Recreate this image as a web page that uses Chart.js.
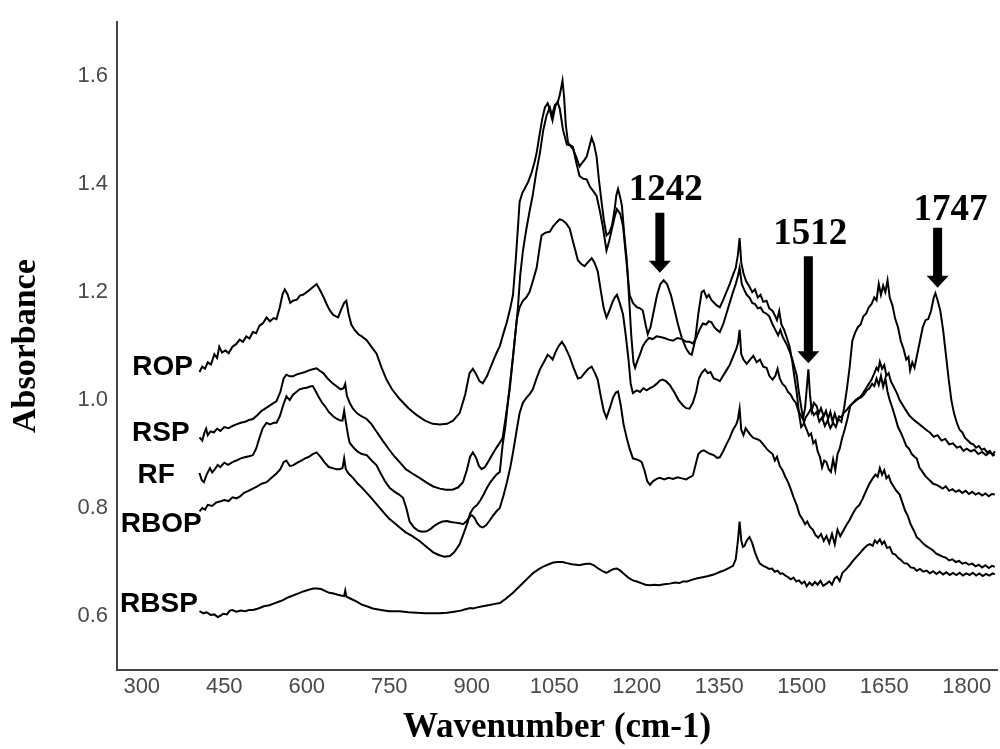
<!DOCTYPE html>
<html>
<head>
  <title>FTIR spectra</title>
  <script src="https://cdn.jsdelivr.net/npm/chart.js"></script>
  <style>
    html, body { margin: 0; padding: 0; background: #fff; }
    #wrap { width: 1000px; height: 749px; position: relative; }
  </style>
</head>
<body>
  <div id="wrap">
    <canvas id="ftirChart"></canvas>
  </div>

  <script>
    // wavenumber (cm-1), absorbance pairs read for each sample
    const ROP = [
      [405,1.052],[410,1.062],[415,1.058],[420,1.07],[426,1.066],[432,1.085],[437,1.078],[441,1.099],[446,1.088],[452,1.092],
      [458,1.087],[465,1.099],[472,1.104],[478,1.112],[484,1.108],[490,1.118],[496,1.114],[502,1.126],[508,1.124],[514,1.138],
      [520,1.142],[527,1.153],[533,1.146],[540,1.152],[545,1.15],[551,1.172],[556,1.196],[560,1.205],[565,1.196],[570,1.18],
      [575,1.184],[582,1.186],[588,1.194],[593,1.195],[600,1.2],[606,1.205],[612,1.21],[618,1.215],[624,1.204],[630,1.192],
      [636,1.178],[642,1.166],[648,1.158],[653,1.155],[657,1.153],[662,1.166],[668,1.18],[672,1.184],[676,1.16],[681,1.14],
      [687,1.13],[694,1.122],[700,1.118],[709,1.111],[718,1.098],[727,1.086],[736,1.06],[745,1.038],[755,1.02],[769,1.002],
      [785,0.985],[800,0.972],[815,0.962],[829,0.956],[842,0.955],[855,0.956],[866,0.962],[878,0.976],[888,1.01],[896,1.05],
      [902,1.058],[908,1.048],[914,1.035],[920,1.031],[928,1.045],[936,1.065],[944,1.085],[951,1.10],[958,1.125],[964,1.145],
      [970,1.17],[975,1.195],[980,1.26],[984,1.32],[987,1.367],[992,1.384],[996,1.391],[1003,1.405],[1009,1.422],[1014,1.44],
      [1018,1.458],[1023,1.49],[1028,1.52],[1033,1.542],[1038,1.55],[1042,1.538],[1045,1.524],[1048,1.535],[1051,1.546],[1056,1.552],
      [1060,1.54],[1066,1.5],[1073,1.473],[1079,1.472],[1084,1.469],[1090,1.44],[1096,1.415],[1103,1.41],[1109,1.409],[1115,1.395],
      [1121,1.387],[1127,1.378],[1133,1.35],[1138,1.323],[1145,1.277],[1150,1.295],[1155,1.318],[1160,1.34],[1164,1.354],[1170,1.345],
      [1175,1.323],[1181,1.26],[1187,1.195],[1193,1.18],[1200,1.172],[1206,1.17],[1211,1.166],[1216,1.14],[1220,1.122],[1225,1.135],
      [1231,1.165],[1237,1.195],[1243,1.215],[1249,1.222],[1255,1.215],[1262,1.195],[1268,1.17],[1275,1.14],[1282,1.115],[1290,1.095],
      [1296,1.086],[1300,1.084],[1306,1.11],[1312,1.16],[1318,1.2],[1322,1.203],[1327,1.19],[1331,1.195],[1336,1.185],[1341,1.18],
      [1346,1.175],[1351,1.172],[1357,1.185],[1363,1.2],[1369,1.215],[1375,1.232],[1380,1.245],[1384,1.27],[1387,1.30],[1390,1.255],
      [1394,1.235],[1399,1.22],[1405,1.21],[1410,1.2],[1415,1.205],[1420,1.19],[1425,1.195],[1430,1.182],[1436,1.184],[1441,1.17],
      [1447,1.165],[1452,1.155],[1455,1.148],[1459,1.165],[1463,1.14],[1468,1.13],[1473,1.115],[1478,1.099],[1483,1.07],[1487,1.04],
      [1491,1.013],[1495,0.975],[1499,0.95],[1503,0.955],[1507,0.968],[1512,0.975],[1517,0.985],[1522,0.972],[1527,0.978],[1532,0.96],
      [1537,0.968],[1542,0.952],[1547,0.962],[1552,0.948],[1557,0.958],[1562,0.95],[1567,0.965],[1572,0.96],[1577,0.985],[1582,1.02],
      [1587,1.06],[1592,1.11],[1597,1.125],[1602,1.135],[1607,1.14],[1612,1.155],[1617,1.16],[1622,1.172],[1627,1.178],[1632,1.19],
      [1636,1.185],[1640,1.215],[1644,1.195],[1648,1.212],[1652,1.2],[1656,1.222],[1660,1.19],[1665,1.175],[1670,1.15],[1675,1.135],
      [1680,1.11],[1685,1.095],[1690,1.075],[1694,1.08],[1697,1.055],[1701,1.07],[1705,1.06],[1710,1.085],[1715,1.11],[1720,1.135],
      [1725,1.148],[1730,1.15],[1735,1.165],[1740,1.19],[1743,1.198],[1747,1.185],[1752,1.165],[1757,1.13],[1762,1.085],[1767,1.04],
      [1772,1.0],[1777,0.975],[1782,0.958],[1787,0.945],[1792,0.94],[1797,0.93],[1802,0.925],[1807,0.92],[1812,0.918],[1817,0.912],
      [1822,0.915],[1827,0.908],[1832,0.91],[1837,0.903],[1842,0.906],[1847,0.898],[1851,0.905]
    ];

    const RSP = [
      [405,0.931],[410,0.925],[414,0.94],[417,0.947],[420,0.935],[425,0.942],[431,0.94],[437,0.947],[443,0.943],[450,0.95],
      [458,0.948],[465,0.952],[472,0.955],[480,0.958],[488,0.96],[495,0.963],[502,0.965],[510,0.972],[518,0.98],[527,0.986],
      [536,0.992],[545,0.998],[552,1.015],[558,1.04],[563,1.047],[569,1.044],[575,1.044],[583,1.048],[590,1.05],[597,1.052],
      [604,1.055],[611,1.057],[618,1.059],[624,1.054],[630,1.05],[638,1.04],[647,1.031],[655,1.025],[662,1.02],[667,1.022],
      [670,1.03],[673,1.008],[678,0.995],[684,0.984],[692,0.975],[700,0.97],[709,0.965],[718,0.955],[728,0.94],[738,0.925],
      [750,0.908],[760,0.895],[769,0.885],[780,0.872],[792,0.864],[805,0.856],[818,0.847],[830,0.84],[842,0.836],[853,0.834],
      [865,0.834],[875,0.838],[884,0.848],[891,0.87],[897,0.895],[902,0.903],[908,0.893],[913,0.878],[918,0.872],[924,0.876],
      [930,0.886],[938,0.9],[945,0.912],[951,0.921],[956,0.929],[962,0.97],[969,1.02],[974,1.07],[978,1.111],[981,1.14],
      [984,1.172],[988,1.23],[993,1.276],[999,1.315],[1005,1.349],[1011,1.38],[1017,1.42],[1024,1.458],[1030,1.5],[1036,1.527],
      [1042,1.542],[1045,1.53],[1047,1.519],[1050,1.535],[1053,1.548],[1056,1.55],[1060,1.565],[1065,1.592],[1068,1.56],[1071,1.51],
      [1075,1.477],[1080,1.47],[1084,1.465],[1090,1.45],[1096,1.433],[1101,1.44],[1105,1.445],[1109,1.451],[1114,1.47],[1118,1.486],
      [1122,1.475],[1127,1.451],[1131,1.41],[1136,1.367],[1140,1.335],[1145,1.305],[1150,1.31],[1155,1.323],[1160,1.355],[1163,1.38],
      [1166,1.391],[1170,1.375],[1173,1.36],[1177,1.31],[1182,1.258],[1186,1.19],[1190,1.12],[1194,1.07],[1197,1.06],[1201,1.072],
      [1206,1.085],[1211,1.1],[1216,1.108],[1222,1.115],[1229,1.113],[1236,1.118],[1243,1.117],[1250,1.115],[1258,1.112],[1266,1.11],
      [1274,1.115],[1282,1.113],[1290,1.108],[1296,1.108],[1302,1.105],[1308,1.115],[1314,1.13],[1320,1.142],[1326,1.14],[1331,1.146],
      [1336,1.144],[1341,1.135],[1346,1.13],[1351,1.126],[1357,1.14],[1363,1.16],[1369,1.18],[1375,1.2],[1380,1.215],[1384,1.23],
      [1387,1.245],[1391,1.215],[1395,1.205],[1400,1.195],[1405,1.19],[1410,1.18],[1415,1.178],[1420,1.17],[1425,1.172],[1430,1.163],
      [1436,1.16],[1441,1.155],[1447,1.14],[1452,1.13],[1457,1.12],[1461,1.13],[1465,1.118],[1470,1.108],[1474,1.1],[1478,1.09],
      [1483,1.075],[1487,1.06],[1491,1.045],[1494,1.02],[1497,1.0],[1501,0.975],[1505,0.955],[1509,0.945],[1513,0.934],[1517,0.938],
      [1521,0.92],[1525,0.925],[1529,0.905],[1533,0.895],[1537,0.875],[1541,0.888],[1545,0.885],[1549,0.872],[1553,0.867],[1557,0.89],
      [1561,0.87],[1565,0.9],[1569,0.91],[1573,0.928],[1578,0.945],[1583,0.965],[1588,0.988],[1593,0.995],[1598,1.0],[1603,1.004],
      [1608,1.005],[1613,1.01],[1618,1.018],[1623,1.022],[1628,1.03],[1632,1.026],[1636,1.04],[1640,1.028],[1644,1.045],[1648,1.025],
      [1652,1.04],[1656,1.015],[1660,1.0],[1665,0.985],[1670,0.968],[1675,0.95],[1680,0.94],[1685,0.928],[1690,0.915],[1695,0.91],
      [1700,0.9],[1705,0.895],[1709,0.892],[1714,0.875],[1719,0.868],[1724,0.86],[1729,0.855],[1734,0.85],[1739,0.845],[1745,0.843],
      [1750,0.84],[1756,0.836],[1762,0.84],[1768,0.832],[1774,0.835],[1780,0.83],[1786,0.833],[1792,0.828],[1798,0.832],[1804,0.826],
      [1810,0.83],[1816,0.825],[1822,0.828],[1828,0.823],[1834,0.827],[1840,0.822],[1846,0.826],[1851,0.825]
    ];

    const RF = [
      [405,0.865],[409,0.852],[413,0.848],[418,0.862],[424,0.874],[428,0.866],[433,0.872],[438,0.88],[443,0.876],[450,0.884],
      [457,0.88],[465,0.885],[472,0.888],[480,0.892],[487,0.894],[495,0.896],[502,0.898],[508,0.91],[514,0.93],[520,0.948],
      [527,0.958],[533,0.955],[540,0.958],[545,0.958],[551,0.97],[557,0.99],[563,1.007],[569,1.0],[575,1.01],[581,1.015],
      [587,1.02],[594,1.022],[600,1.023],[606,1.025],[611,1.026],[617,1.015],[622,1.005],[628,0.995],[633,0.989],[640,0.978],
      [648,0.97],[655,0.965],[661,0.962],[665,0.962],[668,0.98],[671,0.96],[675,0.935],[678,0.921],[685,0.912],[692,0.905],
      [700,0.9],[709,0.898],[718,0.888],[727,0.879],[734,0.865],[742,0.85],[751,0.837],[760,0.83],[768,0.825],[775,0.819],
      [781,0.8],[787,0.775],[795,0.764],[803,0.758],[810,0.756],[818,0.757],[826,0.762],[833,0.768],[840,0.772],[847,0.775],
      [855,0.776],[862,0.774],[870,0.773],[878,0.772],[884,0.77],[890,0.775],[895,0.782],[900,0.787],[905,0.782],[910,0.772],
      [915,0.766],[920,0.764],[926,0.768],[932,0.776],[938,0.785],[945,0.794],[951,0.8],[958,0.824],[964,0.848],[970,0.875],
      [975,0.903],[981,0.94],[987,0.976],[993,0.995],[1000,1.005],[1006,1.012],[1011,1.02],[1017,1.038],[1024,1.057],[1031,1.07],
      [1038,1.084],[1043,1.08],[1047,1.075],[1052,1.088],[1058,1.1],[1064,1.108],[1070,1.098],[1078,1.08],[1085,1.06],[1093,1.04],
      [1099,1.042],[1105,1.05],[1112,1.058],[1118,1.062],[1124,1.05],[1129,1.038],[1135,1.005],[1140,0.98],[1145,0.967],[1151,0.985],
      [1157,1.005],[1162,1.014],[1166,1.016],[1171,0.99],[1176,0.955],[1182,0.929],[1187,0.91],[1193,0.892],[1200,0.89],[1205,0.888],
      [1209,0.885],[1214,0.87],[1219,0.85],[1224,0.843],[1230,0.85],[1236,0.854],[1242,0.856],[1250,0.853],[1258,0.856],[1266,0.854],
      [1274,0.857],[1282,0.855],[1290,0.853],[1296,0.857],[1302,0.86],[1307,0.88],[1312,0.9],[1317,0.905],[1322,0.907],[1328,0.903],
      [1334,0.9],[1340,0.898],[1346,0.893],[1351,0.894],[1357,0.905],[1363,0.918],[1369,0.93],[1375,0.945],[1381,0.955],[1384,0.965],
      [1387,0.984],[1390,0.945],[1394,0.935],[1398,0.948],[1402,0.942],[1407,0.935],[1412,0.93],[1418,0.928],[1424,0.925],[1430,0.918],
      [1436,0.91],[1441,0.905],[1447,0.9],[1451,0.888],[1455,0.895],[1460,0.878],[1465,0.87],[1470,0.858],[1475,0.848],[1480,0.835],
      [1485,0.82],[1491,0.805],[1496,0.788],[1501,0.78],[1506,0.77],[1510,0.775],[1515,0.765],[1520,0.76],[1525,0.75],[1530,0.745],
      [1535,0.752],[1540,0.739],[1545,0.748],[1550,0.735],[1555,0.752],[1560,0.733],[1565,0.76],[1570,0.748],[1575,0.757],[1581,0.768],
      [1587,0.778],[1593,0.79],[1599,0.8],[1605,0.806],[1611,0.818],[1617,0.832],[1623,0.845],[1629,0.855],[1634,0.862],[1638,0.858],
      [1642,0.874],[1646,0.862],[1650,0.87],[1654,0.855],[1658,0.86],[1662,0.848],[1667,0.84],[1672,0.832],[1678,0.825],[1683,0.81],
      [1688,0.795],[1693,0.785],[1698,0.77],[1704,0.758],[1709,0.746],[1714,0.742],[1720,0.735],[1726,0.73],[1732,0.726],[1738,0.722],
      [1744,0.716],[1750,0.713],[1756,0.71],[1762,0.708],[1768,0.703],[1774,0.705],[1780,0.7],[1786,0.702],[1792,0.697],[1798,0.699],
      [1804,0.695],[1810,0.697],[1816,0.692],[1822,0.695],[1828,0.69],[1834,0.694],[1840,0.689],[1846,0.693],[1851,0.691]
    ];

    const RBOP = [
      [405,0.794],[410,0.8],[415,0.797],[420,0.806],[428,0.804],[435,0.81],[442,0.812],[450,0.815],[458,0.813],[465,0.82],
      [472,0.818],[478,0.821],[486,0.828],[494,0.832],[502,0.836],[510,0.84],[518,0.845],[527,0.848],[536,0.856],[545,0.864],
      [552,0.872],[558,0.885],[563,0.888],[569,0.878],[575,0.879],[583,0.884],[590,0.888],[597,0.892],[604,0.895],[611,0.9],
      [618,0.903],[625,0.895],[632,0.885],[640,0.876],[647,0.874],[654,0.872],[660,0.872],[665,0.874],[668,0.892],[671,0.872],
      [676,0.864],[684,0.856],[692,0.846],[700,0.838],[709,0.828],[718,0.818],[728,0.806],[738,0.794],[750,0.78],[760,0.772],
      [769,0.764],[780,0.755],[792,0.748],[805,0.739],[818,0.728],[830,0.718],[840,0.713],[850,0.71],[860,0.711],[868,0.718],
      [878,0.733],[886,0.755],[892,0.772],[897,0.79],[903,0.8],[910,0.806],[916,0.815],[922,0.826],[928,0.838],[934,0.848],
      [940,0.856],[945,0.862],[951,0.867],[956,0.916],[961,0.95],[965,0.989],[970,1.035],[975,1.08],[979,1.12],[982,1.15],
      [987,1.172],[993,1.184],[999,1.19],[1005,1.2],[1011,1.22],[1018,1.245],[1023,1.28],[1027,1.305],[1034,1.31],[1042,1.312],
      [1048,1.322],[1055,1.33],[1060,1.335],[1065,1.333],[1071,1.328],[1078,1.318],[1085,1.29],[1093,1.259],[1099,1.252],[1105,1.248],
      [1111,1.255],[1118,1.263],[1123,1.255],[1129,1.239],[1135,1.2],[1140,1.17],[1145,1.153],[1150,1.165],[1156,1.182],[1160,1.19],
      [1164,1.195],[1169,1.18],[1175,1.159],[1180,1.12],[1185,1.075],[1189,1.03],[1193,1.013],[1200,1.018],[1206,1.015],[1212,1.022],
      [1218,1.018],[1224,1.022],[1230,1.025],[1236,1.03],[1242,1.036],[1247,1.038],[1253,1.035],[1260,1.028],[1268,1.015],[1276,1.0],
      [1284,0.99],[1290,0.985],[1296,0.984],[1302,0.995],[1308,1.015],[1313,1.04],[1318,1.05],[1324,1.057],[1329,1.05],[1334,1.052],
      [1340,1.04],[1346,1.038],[1351,1.035],[1357,1.045],[1363,1.055],[1369,1.065],[1375,1.08],[1381,1.095],[1384,1.105],[1387,1.13],
      [1390,1.085],[1394,1.075],[1400,1.067],[1406,1.075],[1412,1.082],[1418,1.07],[1424,1.075],[1430,1.062],[1436,1.06],[1441,1.045],
      [1447,1.038],[1452,1.045],[1456,1.058],[1460,1.04],[1465,1.03],[1470,1.025],[1475,1.015],[1480,1.01],[1484,1.002],[1489,0.995],
      [1494,0.98],[1498,0.972],[1502,0.965],[1506,0.985],[1509,1.02],[1512,1.057],[1515,1.01],[1518,0.98],[1522,0.995],[1527,0.989],
      [1531,0.975],[1535,0.985],[1540,0.97],[1544,0.98],[1548,0.965],[1552,0.978],[1556,0.96],[1560,0.975],[1564,0.962],[1568,0.97],
      [1572,0.968],[1576,0.976],[1582,0.982],[1588,0.99],[1594,0.995],[1600,1.0],[1605,1.004],[1611,1.012],[1617,1.022],[1622,1.03],
      [1627,1.038],[1632,1.05],[1636,1.06],[1639,1.055],[1642,1.071],[1646,1.058],[1650,1.065],[1654,1.045],[1658,1.05],[1662,1.035],
      [1667,1.025],[1673,1.013],[1678,1.0],[1684,0.99],[1690,0.98],[1696,0.971],[1702,0.965],[1708,0.96],[1714,0.955],[1720,0.95],
      [1726,0.945],[1733,0.94],[1740,0.932],[1747,0.935],[1754,0.925],[1761,0.928],[1768,0.918],[1775,0.92],[1782,0.912],[1788,0.914],
      [1794,0.906],[1800,0.91],[1807,0.905],[1814,0.908],[1821,0.9],[1828,0.904],[1835,0.898],[1842,0.903],[1851,0.897]
    ];

    const RBSP = [
      [405,0.609],[412,0.605],[418,0.607],[425,0.602],[432,0.603],[438,0.598],[442,0.6],[448,0.604],[455,0.603],[460,0.61],
      [465,0.611],[472,0.608],[480,0.61],[488,0.609],[495,0.611],[502,0.611],[512,0.614],[522,0.618],[532,0.62],[542,0.624],
      [550,0.627],[556,0.629],[565,0.634],[575,0.638],[585,0.642],[595,0.646],[605,0.649],[612,0.651],[618,0.651],[626,0.65],
      [634,0.646],[641,0.643],[647,0.642],[655,0.64],[662,0.638],[668,0.637],[670,0.647],[672,0.636],[680,0.632],[690,0.627],
      [700,0.621],[709,0.618],[720,0.614],[735,0.611],[750,0.609],[769,0.609],[785,0.607],[800,0.606],[815,0.605],[829,0.605],
      [842,0.605],[855,0.606],[868,0.608],[880,0.61],[890,0.613],[898,0.615],[902,0.614],[910,0.616],[920,0.618],[930,0.62],
      [940,0.622],[951,0.624],[962,0.632],[975,0.643],[987,0.655],[1000,0.668],[1012,0.68],[1022,0.687],[1029,0.691],[1038,0.695],
      [1048,0.699],[1057,0.7],[1065,0.7],[1073,0.698],[1082,0.696],[1090,0.695],[1096,0.694],[1103,0.696],[1110,0.697],[1115,0.697],
      [1122,0.694],[1130,0.688],[1138,0.683],[1145,0.68],[1152,0.684],[1158,0.687],[1164,0.688],[1170,0.684],[1178,0.677],[1186,0.67],
      [1193,0.666],[1200,0.664],[1208,0.661],[1216,0.658],[1224,0.657],[1232,0.658],[1240,0.657],[1250,0.659],[1260,0.66],[1270,0.662],
      [1278,0.661],[1284,0.664],[1292,0.664],[1300,0.667],[1310,0.67],[1320,0.672],[1330,0.674],[1340,0.677],[1345,0.679],[1352,0.682],
      [1360,0.685],[1368,0.689],[1375,0.693],[1380,0.705],[1384,0.74],[1387,0.775],[1390,0.74],[1393,0.728],[1396,0.73],[1400,0.74],
      [1405,0.746],[1410,0.735],[1415,0.718],[1420,0.705],[1424,0.697],[1430,0.693],[1436,0.69],[1441,0.687],[1446,0.688],[1451,0.682],
      [1456,0.684],[1461,0.678],[1465,0.679],[1470,0.675],[1475,0.672],[1480,0.668],[1485,0.671],[1490,0.664],[1495,0.666],[1500,0.66],
      [1505,0.664],[1509,0.655],[1514,0.662],[1519,0.657],[1524,0.663],[1529,0.658],[1534,0.665],[1539,0.656],[1545,0.66],[1550,0.664],
      [1555,0.658],[1560,0.67],[1564,0.673],[1569,0.665],[1574,0.68],[1580,0.686],[1587,0.694],[1593,0.702],[1600,0.71],[1607,0.718],
      [1613,0.725],[1619,0.731],[1624,0.733],[1629,0.73],[1633,0.74],[1637,0.735],[1642,0.742],[1646,0.733],[1650,0.738],[1655,0.726],
      [1660,0.728],[1665,0.716],[1670,0.714],[1675,0.708],[1680,0.704],[1686,0.698],[1692,0.697],[1698,0.69],[1704,0.689],[1709,0.684],
      [1715,0.687],[1721,0.682],[1727,0.684],[1733,0.679],[1739,0.683],[1745,0.678],[1751,0.682],[1757,0.677],[1763,0.681],[1769,0.676],
      [1775,0.68],[1781,0.676],[1787,0.68],[1793,0.675],[1799,0.679],[1805,0.676],[1811,0.68],[1817,0.675],[1823,0.679],[1829,0.674],
      [1835,0.678],[1841,0.675],[1847,0.679],[1851,0.677]
    ];

    const seriesNames = ['ROP', 'RSP', 'RF', 'RBOP', 'RBSP'];
    const seriesData = [ROP, RSP, RF, RBOP, RBSP];
    const xTicks = [300, 450, 600, 750, 900, 1050, 1200, 1350, 1500, 1650, 1800];
    const yTicks = [0.6, 0.8, 1.0, 1.2, 1.4, 1.6];
    const peakMarks = [1242, 1512, 1747];

    // where each sample name sits, left of its trace (right edge x in cm-1, baseline in absorbance)
    const nameSpots = {
      ROP:  { x: 393, y: 1.047 },
      RSP:  { x: 387, y: 0.925 },
      RF:   { x: 360, y: 0.847 },
      RBOP: { x: 409, y: 0.755 },
      RBSP: { x: 402, y: 0.607 }
    };

    // arrow tip (absorbance), shaft length and label offsets in px
    const arrowShapes = {
      1242: { tip: 1.236, len: 60, gap: 13, dx: 6 },
      1512: { tip: 1.068, len: 107, gap: 12, dx: 2 },
      1747: { tip: 1.208, len: 60, gap: 8, dx: 13 }
    };

    const sampleNames = {
      id: 'sampleNames',
      afterDatasetsDraw(chart) {
        const { ctx, scales: { x, y } } = chart;
        ctx.save();
        ctx.fillStyle = '#000';
        ctx.font = 'bold 28px "Liberation Sans", Arial, sans-serif';
        ctx.textAlign = 'right';
        ctx.textBaseline = 'alphabetic';
        seriesNames.forEach(name => {
          const s = nameSpots[name];
          ctx.fillText(name, x.getPixelForValue(s.x), y.getPixelForValue(s.y));
        });
        ctx.restore();
      }
    };

    const peakArrows = {
      id: 'peakArrows',
      afterDatasetsDraw(chart) {
        const { ctx, scales: { x, y } } = chart;
        ctx.save();
        ctx.fillStyle = '#000';
        ctx.font = 'bold 37px "Liberation Serif", "Times New Roman", serif';
        ctx.textAlign = 'center';
        ctx.textBaseline = 'alphabetic';
        peakMarks.forEach(wn => {
          const a = arrowShapes[wn];
          const px = x.getPixelForValue(wn);
          const tipY = y.getPixelForValue(a.tip);
          const topY = tipY - a.len;
          const headH = 12, headW = 11, shaftW = 4.5;
          ctx.beginPath();
          ctx.moveTo(px - shaftW, topY);
          ctx.lineTo(px + shaftW, topY);
          ctx.lineTo(px + shaftW, tipY - headH);
          ctx.lineTo(px + headW, tipY - headH);
          ctx.lineTo(px, tipY);
          ctx.lineTo(px - headW, tipY - headH);
          ctx.lineTo(px - shaftW, tipY - headH);
          ctx.closePath();
          ctx.fill();
          ctx.fillText(String(wn), px + a.dx, topY - a.gap);
        });
        ctx.restore();
      }
    };

    Chart.defaults.font.family = '"Liberation Sans", Arial, sans-serif';

    const ctx = document.getElementById('ftirChart').getContext('2d');

    const chart = new Chart(ctx, {
      type: 'line',
      data: {
        datasets: seriesData.map((d, i) => ({
          label: seriesNames[i],
          data: d,
          borderColor: '#000',
          borderWidth: 2,
          pointRadius: 0,
          tension: 0,
          fill: false
        }))
      },
      options: {
        responsive: true,
        maintainAspectRatio: false,
        animation: false,
        layout: { padding: { top: 13, right: 3, left: 0, bottom: 0 } },
        plugins: {
          legend: { display: false },
          tooltip: { enabled: false }
        },
        scales: {
          x: {
            type: 'linear',
            min: 255,
            max: 1855,
            grid: { display: false, drawTicks: false },
            border: { display: true, color: '#444', width: 2 },
            afterBuildTicks: s => { s.ticks = xTicks.map(v => ({ value: v })); },
            afterFit: s => { s.height = 79; },
            ticks: {
              padding: 4,
              color: '#4a4a4a',
              font: { size: 22 },
              maxRotation: 0,
              autoSkip: false,
              callback: v => String(v)
            },
            title: {
              display: true,
              text: 'Wavenumber (cm-1)',
              color: '#000',
              font: { family: '"Liberation Serif", "Times New Roman", serif', size: 35, weight: 'bold' },
              padding: { top: 0, bottom: 0 }
            }
          },
          y: {
            min: 0.5,
            max: 1.7,
            grid: { display: false, drawTicks: false },
            border: { display: true, color: '#444', width: 2 },
            afterBuildTicks: s => { s.ticks = yTicks.map(v => ({ value: v })); },
            afterFit: s => { s.width = 117; },
            ticks: {
              padding: 9,
              color: '#4a4a4a',
              font: { size: 22 },
              autoSkip: false,
              callback: v => v.toFixed(1)
            },
            title: {
              display: true,
              text: 'Absorbance',
              color: '#000',
              font: { family: '"Liberation Serif", "Times New Roman", serif', size: 34, weight: 'bold' },
              padding: { top: 6, bottom: 0 }
            }
          }
        }
      },
      plugins: [sampleNames, peakArrows]
    });
  </script>
</body>
</html>
